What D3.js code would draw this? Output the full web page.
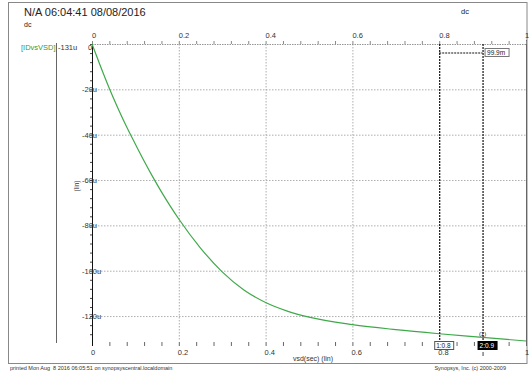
<!DOCTYPE html>
<html><head><meta charset="utf-8">
<script src="https://cdn.jsdelivr.net/npm/d3@7"></script>
<style>
body{margin:0;background:#fff;}
svg{display:block;font-family:"Liberation Sans",Arial,sans-serif;}
</style></head>
<body><svg id="c" width="531" height="373"></svg>
<script>
// ---- data ----
const vsd = [0, 0.02, 0.04, 0.06, 0.08, 0.1, 0.12, 0.14, 0.16, 0.18, 0.2, 0.25, 0.3, 0.35, 0.4, 0.45, 0.5, 0.6, 0.7, 0.8, 0.9, 1.0];
const ids = [0, -10, -19.6, -28.4, -36.6, -44.2, -51.6, -58.6, -65.2, -71.4, -77.2, -90, -100.5, -108.5, -114, -117.8, -120.5, -123.8, -126, -127.8, -129.4, -131];
const xTickLabels = [0, 0.2, 0.4, 0.6, 0.8, 1];
const yTickValues = [-20, -40, -60, -80, -100, -120];
const cursors = [0.8, 0.8999];
const cursorLabels = ["1:0.8", "2:0.9"];
const deltaLabel = "99.9m";
const seriesName = "[IDvsVSD]";
const seriesEnd = "-131u";

const svg = d3.select("#c");
const x = d3.scaleLinear().domain([0, 1]).range([92, 526]);
const y = d3.scaleLinear().domain([-131, 0]).range([341, 44]);

// frame
svg.append("rect").attr("x", 8.5).attr("y", 2.5).attr("width", 518.5).attr("height", 361).attr("fill", "none").attr("stroke", "#888");

// header
svg.append("text").attr("x", 24).attr("y", 16).attr("font-size", 11).attr("fill", "#222").text("N/A 06:04:41 08/08/2016");
svg.append("text").attr("x", 24).attr("y", 27).attr("font-size", 7).attr("fill", "#222").text("dc");
svg.append("text").attr("x", 461).attr("y", 14).attr("font-size", 7.5).attr("fill", "#222").text("dc");

// grid
const g = svg.append("g");
g.selectAll("line.hg").data(yTickValues).join("line")
  .attr("x1", x(0)).attr("x2", x(1)).attr("y1", d => y(d) + 0.5).attr("y2", d => y(d) + 0.5)
  .attr("stroke", "#999").attr("stroke-dasharray", "1.5,1.5").attr("stroke-width", 0.8);
g.selectAll("line.vg").data([0.2, 0.4, 0.6]).join("line")
  .attr("x1", d => x(d) + 0.5).attr("x2", d => x(d) + 0.5).attr("y1", y(0)).attr("y2", y(-131))
  .attr("stroke", "#999").attr("stroke-dasharray", "1.5,1.5").attr("stroke-width", 0.8);
g.append("line").attr("x1", x(0)).attr("x2", x(1)).attr("y1", y(0) + 0.5).attr("y2", y(0) + 0.5)
  .attr("stroke", "#888").attr("stroke-dasharray", "1.5,1").attr("stroke-width", 0.9);
g.append("line").attr("x1", x(1) + 0.5).attr("x2", x(1) + 0.5).attr("y1", y(0) - 4).attr("y2", 346)
  .attr("stroke", "#666").attr("stroke-width", 1);

// top axis
const minorX = d3.range(0, 1.0001, 0.04);
const topAx = svg.append("g").attr("transform", `translate(0,${y(0)})`)
  .call(d3.axisTop(x).tickValues(minorX).tickSize(3).tickFormat(""));
topAx.select(".domain").remove();
topAx.selectAll("line").attr("stroke", "#888");
svg.append("g").selectAll("text").data(xTickLabels).join("text")
  .attr("x", d => x(d) + (d === 1 ? -1 : 0)).attr("y", 38).attr("font-size", 7.5).attr("fill", "#333")
  .text(d => d === 0 ? "0" : (d === 1 ? "1" : d.toFixed(1)));

// bottom axis
const botAx = svg.append("g").attr("transform", "translate(0,342)")
  .call(d3.axisBottom(x).tickValues(minorX).tickSize(4).tickFormat(""));
botAx.select(".domain").remove();
botAx.selectAll("line").attr("stroke", "#666");
svg.append("g").selectAll("text").data(xTickLabels).join("text")
  .attr("x", d => x(d) - 1).attr("y", 355).attr("font-size", 7.5).attr("fill", "#333")
  .text(d => d === 0 ? "0" : (d === 1 ? "1" : d.toFixed(1)));
svg.append("text").attr("x", 313).attr("y", 361).attr("text-anchor", "middle").attr("font-size", 7).attr("fill", "#333").text("vsd(sec) (lin)");

// y axis
const minorY = d3.range(0, -131, -4);
const leftAx = svg.append("g").attr("transform", `translate(${x(0)},0)`)
  .call(d3.axisLeft(y).tickValues(minorY).tickSize(2).tickFormat(""));
leftAx.select(".domain").remove();
leftAx.selectAll("line").attr("stroke", "#444");
svg.append("line").attr("x1", x(0) + 0.5).attr("x2", x(0) + 0.5).attr("y1", y(0)).attr("y2", 346).attr("stroke", "#111").attr("stroke-width", 1);
svg.append("g").selectAll("text").data([0].concat(yTickValues)).join("text")
  .attr("x", d => d === 0 ? 88 : 82).attr("y", d => y(d) + 3 + (d === 0 ? 3 : 0)).attr("font-size", 7.5).attr("fill", "#333")
  .text(d => d === 0 ? "0" : d + "u");
svg.append("text").attr("transform", "translate(79,186) rotate(-90)").attr("text-anchor", "middle")
  .attr("font-size", 6.5).attr("fill", "#333").text("(lin)");

// legend
svg.append("text").attr("x", 21).attr("y", 50).attr("font-size", 7.5).attr("fill", "#3a9a3a").text(seriesName);
svg.append("line").attr("x1", 56.5).attr("x2", 56.5).attr("y1", 43).attr("y2", 343).attr("stroke", "#666");
svg.append("text").attr("x", 58).attr("y", 50).attr("font-size", 7.5).attr("fill", "#333").text(seriesEnd);

// curve
const pts = vsd.map((v, i) => [v, ids[i]]);
svg.append("path").datum(pts)
  .attr("d", d3.line().x(d => x(d[0])).y(d => y(d[1])).curve(d3.curveMonotoneX))
  .attr("fill", "none").attr("stroke", "#3fa94a").attr("stroke-width", 1.2);

// cursors
svg.selectAll("line.cur").data(cursors).join("line")
  .attr("x1", d => x(d) + 0.5).attr("x2", d => x(d) + 0.5).attr("y1", y(0)).attr("y2", 341)
  .attr("stroke", "#111").attr("stroke-width", 1.2).attr("stroke-dasharray", "2,1");
svg.append("line").attr("x1", x(cursors[0])).attr("x2", x(cursors[1])).attr("y1", 53).attr("y2", 53)
  .attr("stroke", "#111").attr("stroke-width", 1.2).attr("stroke-dasharray", "2,1");
const dl = svg.append("g").attr("transform", `translate(${x(cursors[1]) + 2},48)`);
dl.append("rect").attr("x", 0.5).attr("y", 0.5).attr("width", 24).attr("height", 8).attr("fill", "#fff").attr("stroke", "#777");
dl.append("text").attr("x", 2.5).attr("y", 7).attr("font-size", 6.5).attr("fill", "#222").text(deltaLabel);

svg.append("line").attr("x1", x(cursors[1]) + 0.5).attr("x2", x(cursors[1]) + 0.5).attr("y1", 352).attr("y2", 356).attr("stroke", "#444");
cursors.forEach((c, i) => {
  const gg = svg.append("g").attr("transform", `translate(${x(c) - 5},341)`);
  gg.append("rect").attr("x", 0.5).attr("y", 0.5).attr("width", 19).attr("height", 8)
    .attr("fill", i === 0 ? "#fff" : "#000").attr("stroke", i === 0 ? "#555" : "#000");
  gg.append("text").attr("x", 2).attr("y", 7).attr("font-size", 6.5).attr("fill", i === 0 ? "#222" : "#fff").text(cursorLabels[i]);
});
const c2 = d3.scaleLinear().domain(vsd).range(ids)(cursors[1]);
svg.append("text").attr("x", x(cursors[1])).attr("y", y(c2) - 1).attr("text-anchor", "middle")
  .attr("font-size", 6).attr("fill", "#222").text("(1)");

// footer
svg.append("text").attr("x", 10).attr("y", 370).attr("font-size", 5.5).attr("fill", "#333")
  .text("printed Mon Aug  8 2016 06:05:51 on synopsyscentral.localdomain").attr("xml:space", "preserve");
svg.append("text").attr("x", 506).attr("y", 370).attr("text-anchor", "end").attr("font-size", 5.5).attr("fill", "#333")
  .text("Synopsys, Inc. (c) 2000-2009");
</script></body></html>
